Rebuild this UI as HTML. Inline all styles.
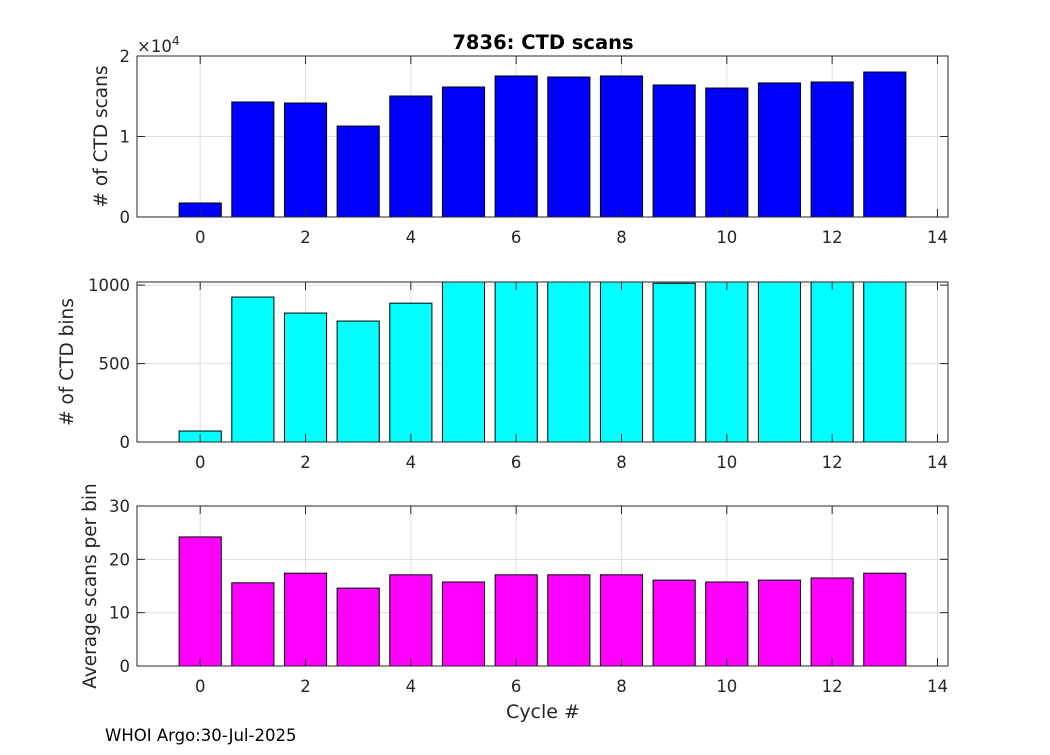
<!DOCTYPE html>
<html><head><meta charset="utf-8"><style>
body{margin:0;background:#fff;}
svg{font-family:"DejaVu Sans","Liberation Sans",sans-serif;}
</style></head><body>
<svg id="chart" width="1050" height="750" viewBox="0 0 1050 750" xmlns="http://www.w3.org/2000/svg">
<rect width="1050" height="750" fill="#fff"/>
<text x="543" y="49" text-anchor="middle" font-size="19.5" font-weight="bold" fill="#000">7836: CTD scans</text>
<text x="543" y="718" text-anchor="middle" font-size="19" fill="#262626">Cycle #</text>
<text x="105" y="741" font-size="16.5" fill="#000">WHOI Argo:30-Jul-2025</text>
</svg>
<script>
const cycles = [0,1,2,3,4,5,6,7,8,9,10,11,12,13];
const scans = [1740,14290,14160,11300,15030,16150,17520,17390,17520,16400,16020,16650,16770,18010];
const bins = [70,924,822,771,885,1100,1100,1100,1100,1012,1100,1100,1100,1100];
const avgScans = [24.2,15.6,17.4,14.6,17.1,15.75,17.1,17.1,17.1,16.1,15.75,16.1,16.5,17.4];
const xTicks = [0,2,4,6,8,10,12,14];
const scanTicks = [0,1,2];
const binTicks = [0,500,1000];
const avgTicks = [0,10,20,30];

const svg = document.getElementById('chart');
const NS = 'http://www.w3.org/2000/svg';
function mk(tag, attrs, parent){const e=document.createElementNS(NS,tag);for(const k in attrs)e.setAttribute(k,attrs[k]);(parent||svg).appendChild(e);return e;}
const X0=137,X1=948,XMIN=-1.2,XMAX=14.2;
const xs=v=>X0+(v-XMIN)/(XMAX-XMIN)*(X1-X0);

function panel(name,top,bottom,ymin,ymax,values,scale,yTicks,color,ylabel,exp,labelX){
  const ys=v=>bottom-(Math.min(Math.max(v,ymin),ymax)-ymin)/(ymax-ymin)*(bottom-top);
  const g=mk('g',{});
  
  
  xTicks.forEach(t=>{const l=mk('line',{x1:xs(t),x2:xs(t),y1:top,y2:bottom,stroke:'#dfdfdf','stroke-width':1},g);
    });
  yTicks.forEach(t=>{const l=mk('line',{x1:X0,x2:X1,y1:ys(t*scale),y2:ys(t*scale),stroke:'#dfdfdf','stroke-width':1},g);
    });
  values.forEach((v,i)=>{
    const x=xs(cycles[i]-0.4),w=xs(cycles[i]+0.4)-x,y=ys(v);
    const r=mk('rect',{x:x,y:y,width:w,height:bottom-y,fill:color,stroke:'#000','stroke-width':1},g);
    
    
  });
  const b=mk('rect',{x:X0,y:top,width:X1-X0,height:bottom-top,fill:'none',stroke:'#262626','stroke-width':1},g);
  
  xTicks.forEach(t=>{
    mk('line',{x1:xs(t),x2:xs(t),y1:bottom,y2:bottom-8,stroke:'#262626'},g);
    mk('line',{x1:xs(t),x2:xs(t),y1:top,y2:top+8,stroke:'#262626'},g);
    const tx=mk('text',{x:xs(t),y:bottom+26,'text-anchor':'middle','font-size':16.5,fill:'#262626'},g);
    tx.textContent=t;
    
  });
  yTicks.forEach(t=>{
    const y=ys(t*scale);
    mk('line',{x1:X0,x2:X0+8,y1:y,y2:y,stroke:'#262626'},g);
    mk('line',{x1:X1,x2:X1-8,y1:y,y2:y,stroke:'#262626'},g);
    const tx=mk('text',{x:X0-7,y:y+6,'text-anchor':'end','font-size':16.5,fill:'#262626'},g);
    tx.textContent=t;
    
  });
  const yl=mk('text',{x:0,y:0,transform:`translate(${labelX},${(top+bottom)/2}) rotate(-90)`,'text-anchor':'middle','font-size':18.5,fill:'#262626'},g);
  yl.textContent=ylabel;
  
  if(exp){
    const e=mk('text',{x:X0,y:top-4,'font-size':16.5,fill:'#262626'},g);
    e.innerHTML='×10<tspan dy="-7" font-size="12.5">4</tspan>';
    
  }
}
panel('scans',56,217,0,20000,scans,10000,scanTicks,'#0000ff','# of CTD scans',true,107);
panel('bins',282,442,0,1020,bins,1,binTicks,'#00ffff','# of CTD bins',false,73);
panel('avg',506,666,0,30,avgScans,1,avgTicks,'#ff00ff','Average scans per bin',false,96);
</script>
</body></html>
